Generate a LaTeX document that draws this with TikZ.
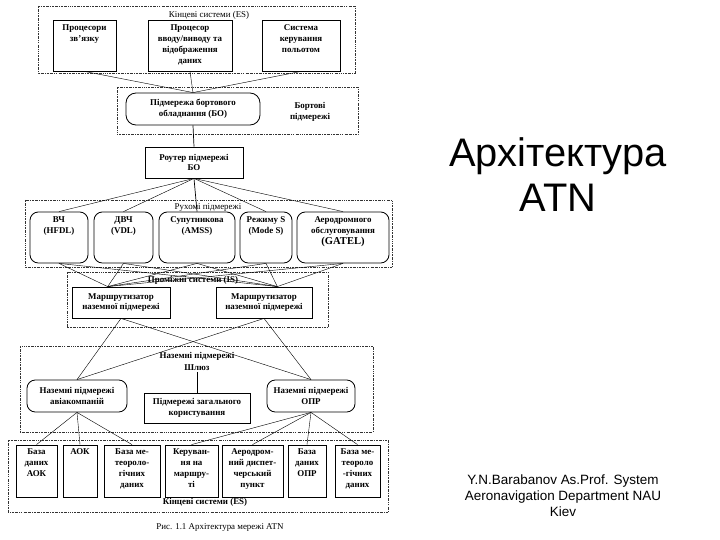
\documentclass[tikz,border=0pt]{standalone}
\usepackage{fontspec}
\setmainfont{Liberation Serif}
\newfontfamily\arialfont{Liberation Sans}
\usepackage{tikz}
\usetikzlibrary{positioning,calc}

\begin{document}
\begin{tikzpicture}[
    x=0.03cm, y=-0.03cm,
    font=\fontsize{7.6}{9.3}\selectfont\bfseries,
    sysframe/.style={
        draw=black!80,
        line width=0.4pt,
        dash pattern=on 1.6pt off 0.9pt on 0.4pt off 0.9pt
    },
    esbox/.style={
        draw=black,
        line width=0.7pt,
        inner sep=0pt,
        align=center
    },
    subnet/.style={
        esbox,
        rounded corners=2.5mm
    },
    utext/.style={anchor=north, align=center, inner sep=0pt},
    ftitle/.style={inner sep=0.5pt, align=center},
    wire/.style={line width=0.35pt}
]
\useasboundingbox (0,0) rectangle (720,540);

% end systems, top
\draw[sysframe] (38,6) rectangle (355,73);
\node[ftitle, font=\fontsize{7.6}{9.3}\selectfont] (es1-t) at (209,15) {Кінцеві системи (ES)};

\node[esbox, minimum width=1.89cm, minimum height=1.53cm] (comm) at (84.5,45.5) {};
\node[utext] (comm-t) at ([yshift=-1.4mm]comm.north) {Процесори\\зв'язку};
\node[esbox, minimum width=2.52cm, minimum height=1.53cm] (io) at (190,45.5) {};
\node[utext] (io-t) at ([yshift=-1.4mm]io.north) {Процесор\\вводу/виводу та\\відображення\\даних};
\node[esbox, minimum width=2.34cm, minimum height=1.53cm] (fcs) at (301,45.5) {};
\node[utext] (fcs-t) at ([yshift=-1.4mm]fcs.north) {Система\\керування\\польотом};

% onboard subnetwork
\draw[sysframe] (117,87) rectangle (358,134);
\node[subnet, minimum width=4.02cm, minimum height=0.96cm, rounded corners=3mm] (bo) at (193,109)
{Підмережа бортового\\обладнання (БО)};
\node[ftitle] (bo-t) at (310,112) {Бортові\\підмережі};

\foreach \n in {comm,io,fcs}
    \draw[wire] (\n.south) -- (bo.north);

\node[esbox, minimum width=2.94cm, minimum height=0.93cm] (rbo) at (194,162.5) {Роутер підмережі\\БО};
\draw[wire, line width=0.6pt] (bo.south) -- (rbo.north);

% mobile subnetworks
\draw[sysframe] (25,200) rectangle (392,267);
\node[ftitle, font=\fontsize{7.6}{9.3}\selectfont] (mob-t) at (208,208) {Рухомі підмережі};

\node[subnet, minimum width=1.74cm, minimum height=1.53cm] (hf) at (59,237.5) {};
\node[utext] (hf-t) at ([yshift=-1.4mm]hf.north) {ВЧ\\(HFDL)};
\node[subnet, minimum width=1.77cm, minimum height=1.53cm] (vhf) at (123.5,237.5) {};
\node[utext] (vhf-t) at ([yshift=-1.4mm]vhf.north) {ДВЧ\\(VDL)};
\node[subnet, minimum width=2.28cm, minimum height=1.53cm] (sat) at (197,237.5) {};
\node[utext] (sat-t) at ([yshift=-1.4mm]sat.north) {Супутникова\\(AMSS)};
\node[subnet, minimum width=1.56cm, minimum height=1.53cm] (modes) at (266,237.5) {};
\node[utext] (modes-t) at ([yshift=-1.4mm]modes.north) {Режиму S\\(Mode S)};
\node[subnet, minimum width=2.76cm, minimum height=1.53cm] (gatel) at (343,237.5) {};
\node[utext] (gatel-t) at ([yshift=-1.4mm]gatel.north) {Аеродромного\\обслуговування\\{\fontsize{9}{10}\selectfont(GATEL)}};

\foreach \m in {hf,vhf,modes,gatel}
    \draw[wire] (rbo.south) -- (\m.north);
\draw[wire, line width=0.6pt] (rbo.south) -- (sat.north);

% intermediate systems
\draw[sysframe] (67,272) rectangle (328,327);
\node[ftitle] (is-t) at (193,280) {Проміжні системи (IS)};

\node[esbox, minimum width=2.94cm, minimum height=0.93cm] (gr1) at (121,302.5) {Маршрутизатор\\наземної підмережі};
\node[esbox, minimum width=2.88cm, minimum height=0.93cm] (gr2) at (264,302.5) {Маршрутизатор\\наземної підмережі};

\foreach \m in {hf,vhf,sat,modes,gatel} {
    \draw[wire] (\m.south) -- ([xshift=-4mm]gr1.north);
    \draw[wire] (\m.south) -- ([xshift=4mm]gr2.north);
}

% ground subnetworks
\draw[sysframe] (20,346) rectangle (373,432);
\node[ftitle] (gnd-t) at (197,356) {Наземні підмережі};
\node[ftitle] (gw) at (197,368) {Шлюз};

\node[subnet, minimum width=3.0cm, minimum height=0.96cm] (air) at (77,396) {Наземні підмережі\\авіакомпаній};
\node[esbox, minimum width=3.18cm, minimum height=0.9cm] (gen) at (197,408) {Підмережі загального\\користування};
\node[subnet, minimum width=2.64cm, minimum height=0.96cm] (opr) at (311,396) {Наземні підмережі\\ОПР};

\draw[wire, line width=0.6pt] (gw.south) -- (gen.north);
\foreach \r in {gr1,gr2} {
    \draw[wire] (\r.south) -- (air.north);
    \draw[wire] (\r.south) -- (opr.north);
}

% end systems, bottom
\draw[sysframe] (8,440) rectangle (388,512);
\node[ftitle] (es2-t) at (205,502) {Кінцеві системи (ES)};

\node[esbox, minimum width=1.23cm, minimum height=1.56cm] (dbaoc) at (36.5,471) {};
\node[utext] (dbaoc-t) at ([yshift=-1.2mm]dbaoc.north) {База\\даних\\АОК};
\node[esbox, minimum width=1.02cm, minimum height=1.56cm] (aoc) at (80,471) {};
\node[utext] (aoc-t) at ([yshift=-1.2mm]aoc.north) {АОК};
\node[esbox, minimum width=1.68cm, minimum height=1.56cm] (met1) at (132,471) {};
\node[utext] (met1-t) at ([yshift=-1.2mm]met1.north) {База ме-\\теороло-\\гічних\\даних};
\node[esbox, minimum width=1.59cm, minimum height=1.56cm] (enr) at (191.5,471) {};
\node[utext] (enr-t) at ([yshift=-1.2mm]enr.north) {Керуван-\\ня на\\маршру-\\ті};
\node[esbox, minimum width=1.83cm, minimum height=1.56cm] (twr) at (252.5,471) {};
\node[utext] (twr-t) at ([yshift=-1.2mm]twr.north) {Аеродром-\\ний диспет-\\черський\\пункт};
\node[esbox, minimum width=1.14cm, minimum height=1.56cm] (dbopr) at (307,471) {};
\node[utext] (dbopr-t) at ([yshift=-1.2mm]dbopr.north) {База\\даних\\ОПР};
\node[esbox, minimum width=1.35cm, minimum height=1.56cm] (met2) at (357.5,471) {};
\node[utext] (met2-t) at ([yshift=-1.2mm]met2.north) {База ме-\\теороло\\-гічних\\даних};

\foreach \b in {dbaoc,aoc,met1}
    \draw[wire] (air.south) -- (\b.north);
\foreach \b in {enr,twr,dbopr,met2}
    \draw[wire] (opr.south) -- (\b.north);

\node[ftitle, font=\fontsize{7.6}{9.3}\selectfont] (caption) at (220,528) {Рис. 1.1 Архітектура мережі ATN};

% slide text
\node[anchor=base, inner sep=0pt, font=\arialfont\fontsize{34}{40}\selectfont] (head1) at (558,167) {Архітектура};
\node[anchor=base, inner sep=0pt, font=\arialfont\fontsize{34}{40}\selectfont] (head2) at (558,212) {ATN};
\node[align=center, inner sep=0pt, font=\arialfont\fontsize{11.5}{13.8}\selectfont] (author) at (563,496)
{Y.N.Barabanov As.Prof. System\\Aeronavigation Department NAU\\Kiev};

\end{tikzpicture}
\end{document}
